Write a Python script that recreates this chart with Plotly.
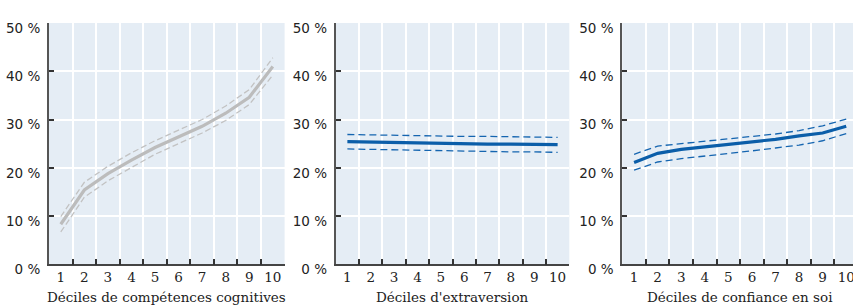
import plotly.graph_objects as go

deciles = ["1", "2", "3", "4", "5", "6", "7", "8", "9", "10"]

cog_mid = [8.3, 15.4, 18.8, 21.6, 24.2, 26.4, 28.6, 31.3, 34.6, 41.0]
cog_hi = [9.9, 17.0, 20.3, 23.1, 25.6, 27.8, 30.0, 32.8, 36.2, 42.8]
cog_lo = [6.7, 13.9, 17.3, 20.1, 22.8, 25.0, 27.2, 29.8, 33.1, 39.2]

ext_mid = [25.4, 25.3, 25.2, 25.1, 25.0, 25.0, 24.9, 24.9, 24.8, 24.8]
ext_hi = [26.9, 26.8, 26.7, 26.6, 26.6, 26.5, 26.5, 26.4, 26.4, 26.3]
ext_lo = [23.9, 23.8, 23.7, 23.6, 23.5, 23.5, 23.4, 23.3, 23.3, 23.2]

conf_mid = [21.1, 23.0, 23.8, 24.3, 24.9, 25.4, 25.9, 26.6, 27.2, 28.6]
conf_hi = [22.8, 24.5, 25.0, 25.5, 25.9, 26.4, 27.0, 27.7, 28.7, 30.1]
conf_lo = [19.5, 21.2, 21.9, 22.4, 23.0, 23.5, 24.1, 24.7, 25.6, 27.1]

y_ticks = [0, 10, 20, 30, 40, 50]
y_ticktext = ["0 %", "10 %", "20 %", "30 %", "40 %", "50 %"]
x_titles = ["Déciles de compétences cognitives", "Déciles d'extraversion", "Déciles de confiance en soi"]

GRAY_MAIN = "#bcbcbc"
GRAY_CI = "#c2c2c2"
BLUE_MAIN = "#0b5ea9"
BLUE_CI = "#1565b0"

fig = go.Figure()

panels = [
    (cog_mid, cog_hi, cog_lo, GRAY_MAIN, GRAY_CI, "6px,3px"),
    (ext_mid, ext_hi, ext_lo, BLUE_MAIN, BLUE_CI, "7px,4px"),
    (conf_mid, conf_hi, conf_lo, BLUE_MAIN, BLUE_CI, "7px,4px"),
]

for i, (mid, hi, lo, cm, cc, dash) in enumerate(panels):
    xa = "x" if i == 0 else f"x{i+1}"
    ya = "y" if i == 0 else f"y{i+1}"
    for vals in (hi, lo):
        fig.add_trace(go.Scatter(x=deciles, y=vals, mode="lines", xaxis=xa, yaxis=ya,
                                 line=dict(color=cc, width=1.3, dash=dash), showlegend=False,
                                 hoverinfo="skip"))
    fig.add_trace(go.Scatter(x=deciles, y=mid, mode="lines", xaxis=xa, yaxis=ya,
                             line=dict(color=cm, width=3.2), showlegend=False))

W, H = 853, 307
x_domains = [[49 / W, 284.6 / W], [335.7 / W, 569.3 / W], [622.3 / W, 1.0]]
x_ranges = [[-0.5, 9.5], [-0.5, 9.5], [-0.5, -0.5 + (W - 622.3) / 23.57]]
y_domain = [1 - 264.3 / H, 1 - 23 / H]

layout = dict(
    width=W, height=H, autosize=False,
    margin=dict(l=0, r=0, t=0, b=0, pad=0),
    paper_bgcolor="white",
    plot_bgcolor="#e5edf5",
    showlegend=False,
)

annotations = []
for i in range(3):
    sx = "" if i == 0 else str(i + 1)
    layout[f"xaxis{sx}"] = dict(
        domain=x_domains[i], anchor=f"y{sx}", type="category",
        range=x_ranges[i], tickson="boundaries", tickangle=0,
        ticks="inside", ticklen=6, tickwidth=1.5, tickcolor="#333333",
        showgrid=True, gridcolor="white", gridwidth=1.5,
        showline=True, linecolor="#444444", linewidth=1.5,
        tickfont=dict(family="DejaVu Serif", size=13.5, color="#222222"),
        automargin=False, fixedrange=True, zeroline=False,
    )
    layout[f"yaxis{sx}"] = dict(
        domain=y_domain, anchor=f"x{sx}", range=[0, 50],
        tickmode="array", tickvals=y_ticks, ticktext=y_ticktext,
        ticks="inside", ticklen=5, tickwidth=1.5, tickcolor="#333333",
        showgrid=True, gridcolor="white", gridwidth=1.5,
        showline=True, linecolor="#555555", linewidth=2,
        tickfont=dict(family="DejaVu Sans", size=13.5, color="#222222"),
        ticklabelshift=5, ticklabelstandoff=4,
        automargin=False, fixedrange=True, zeroline=False,
    )
    xd = x_domains[i]
    annotations.append(dict(
        text=x_titles[i], xref="paper", yref="paper",
        x=(xd[0] + xd[1]) / 2 if i < 2 else (622.3 + 235.7 / 2) / W, y=0,
        xanchor="center", yanchor="bottom", showarrow=False,
        font=dict(family="DejaVu Serif", size=13.5, color="#222222"),
    ))

layout["annotations"] = annotations
fig.update_layout(**layout)
fig.write_html("out.html", config={"displayModeBar": False},
               post_script="document.body.style.margin='0';document.body.style.overflow='hidden';")
